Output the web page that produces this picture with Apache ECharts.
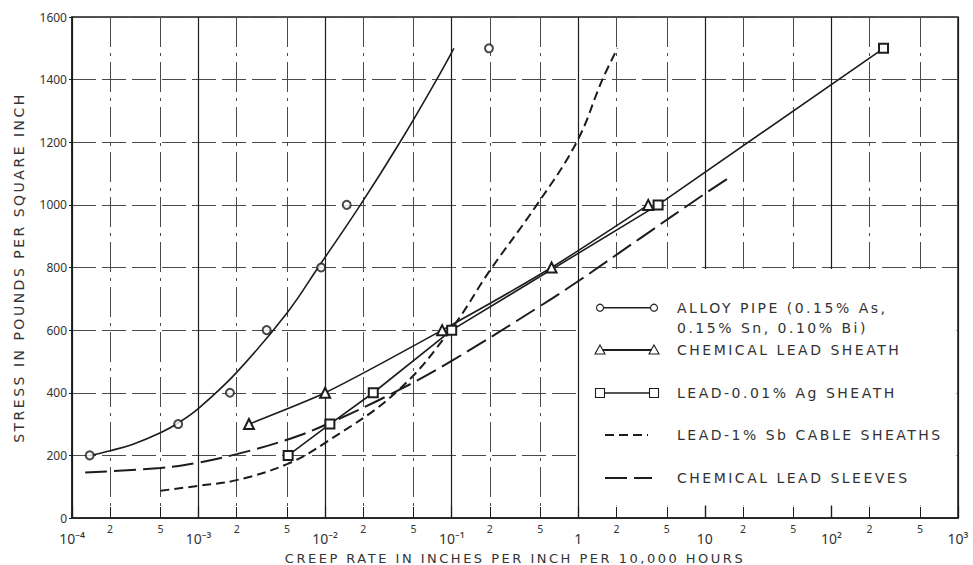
<!DOCTYPE html>
<html><head><meta charset="utf-8">
<script src="https://cdn.jsdelivr.net/npm/echarts@6/dist/echarts.min.js"></script>
<style>
html,body{margin:0;padding:0;background:#fff}
#chart{width:973px;height:565px}
#chart text[style*="DejaVu"]{letter-spacing:2.5px}
</style></head><body><div id="chart"></div>
<script>
// ---------- data ----------
const decadeTicks = [1e-4, 1e-3, 1e-2, 1e-1, 1, 10, 100, 1000];
const minorTicks = [2e-4, 5e-4, 2e-3, 5e-3, 2e-2, 5e-2, 2e-1, 5e-1, 2, 5, 20, 50, 200, 500];

const alloyPointsX = [1.38e-4, 6.9e-4, 1.77e-3, 3.45e-3, 9.3e-3, 1.48e-2, 1.97e-1];
const alloyPointsY = [200, 300, 400, 600, 800, 1000, 1500];
const alloyCurveX = [1.4e-4, 2e-4, 3e-4, 5e-4, 7e-4, 1e-3, 2e-3, 5e-3, 8.8e-3, 1.9e-2, 3.9e-2, 7.6e-2, 1.04e-1];
const alloyCurveY = [200, 215, 235, 272, 305, 350, 465, 655, 800, 1000, 1200, 1400, 1500];

const sheathX = [2.5e-3, 1e-2, 8.4e-2, 6.15e-1, 3.57];
const sheathY = [300, 400, 600, 800, 1000];

const silverX = [5.1e-3, 1.09e-2, 2.4e-2, 1.0e-1, 4.27, 2.58e2];
const silverY = [200, 300, 400, 600, 1000, 1500];

const antimonyX = [5e-4, 1e-3, 2e-3, 5e-3, 1e-2, 3.67e-2, 1e-1, 2e-1, 4.7e-1, 9.7e-1, 1.55, 2.04];
const antimonyY = [87, 103, 121, 172, 240, 403, 606, 790, 1000, 1200, 1400, 1500];

const sleevesX = [1.27e-4, 5e-4, 1e-3, 2e-3, 5e-3, 1e-2, 3.67e-2, 1.03e-1, 4.7e-1, 1.03, 3.1, 9.7, 16];
const sleevesY = [145, 160, 177, 204, 250, 297, 405, 505, 670, 760, 894, 1032, 1090];

const seriesNames = [
  'ALLOY PIPE (0.15% As,\n0.15% Sn, 0.10% Bi)',
  'CHEMICAL LEAD SHEATH',
  'LEAD-0.01% Ag SHEATH',
  'LEAD-1% Sb CABLE SHEATHS',
  'CHEMICAL LEAD SLEEVES'
];
const xTitle = 'CREEP RATE IN INCHES PER INCH PER 10,000 HOURS';
const yTitle = 'STRESS IN POUNDS PER SQUARE INCH';

// ---------- chart ----------
const pair = (xs, ys) => xs.map((x, i) => [x, ys[i]]);
const INK = '#1c1c1c';
const TEXT = '#333';
const GRIDC = '#4a4a4a';
const SUP = {'-': '\u207B', '0': '\u2070', '1': '\u00B9', '2': '\u00B2', '3': '\u00B3', '4': '\u2074',
  '5': '\u2075', '6': '\u2076', '7': '\u2077', '8': '\u2078', '9': '\u2079'};

function decadeLabel(v) {
  const e = Math.round(Math.log10(v));
  if (e === 0) return '1';
  if (e === 1) return '10';
  return '10' + String(e).split('').map(c => SUP[c]).join('');
}
function minorLabel(v) {
  const e = Math.floor(Math.log10(v) + 1e-9);
  return String(Math.round(v / Math.pow(10, e)));
}

const chart = echarts.init(document.getElementById('chart'), null, {renderer: 'svg'});
const lineBase = {type: 'line', xAxisIndex: 0, yAxisIndex: 0, silent: true};
const option = {
  animation: false,
  backgroundColor: '#fff',
  grid: {left: 72, right: 15, top: 17, bottom: 47, containLabel: false, outerBoundsMode: 'none',
    show: true, borderColor: INK, borderWidth: 1.5, backgroundColor: 'transparent'},
  xAxis: [
    {
      type: 'log', logBase: 10, min: 1e-4, max: 1e3, position: 'bottom',
      name: xTitle, nameLocation: 'middle', nameGap: 34,
      nameTextStyle: {fontFamily: 'DejaVu Sans', fontSize: 13, color: TEXT},
      axisLine: {show: true, lineStyle: {color: INK, width: 1.5}},
      axisTick: {show: true, inside: true, length: 12, customValues: decadeTicks, lineStyle: {color: INK, width: 1.2}},
      axisLabel: {customValues: decadeTicks, formatter: decadeLabel, margin: 13, color: TEXT, fontSize: 14, fontFamily: 'Noto Sans'},
      splitLine: {show: true, lineStyle: {color: INK, width: 1.2, type: 'solid'}},
      minorTick: {show: false}, minorSplitLine: {show: false}
    },
    {
      type: 'log', logBase: 10, min: 1e-4, max: 1e3, position: 'bottom',
      axisLine: {show: false},
      axisTick: {show: true, inside: true, length: 11, customValues: minorTicks, lineStyle: {color: INK, width: 1}},
      axisLabel: {customValues: minorTicks, formatter: minorLabel, margin: 5, fontSize: 10.5, fontFamily: 'Noto Sans', color: TEXT},
      splitLine: {show: true, lineStyle: {color: GRIDC, width: 1, type: [30, 6, 3, 6]}},
      minorTick: {show: false}, minorSplitLine: {show: false}
    }
  ],
  yAxis: {
    type: 'value', min: 0, max: 1600, interval: 200,
    name: yTitle, nameLocation: 'middle', nameGap: 46, nameRotate: 90,
    nameTextStyle: {fontFamily: 'DejaVu Sans', fontSize: 14, color: TEXT},
    axisLine: {show: true, lineStyle: {color: INK, width: 1.5}},
    axisTick: {show: true, length: 3, lineStyle: {color: INK}},
    axisLabel: {fontSize: 12, fontFamily: 'Noto Sans', margin: 5, color: TEXT, formatter: v => String(v)},
    splitLine: {show: true, lineStyle: {color: GRIDC, width: 1, type: [24, 6]}}
  },
  series: [
    Object.assign({}, lineBase, {name: seriesNames[0], data: pair(alloyCurveX, alloyCurveY), smooth: 0.4, showSymbol: false, symbol: 'none',
      lineStyle: {color: INK, width: 1.6}}),
    {type: 'scatter', name: seriesNames[0] + ' pts', data: pair(alloyPointsX, alloyPointsY), symbol: 'emptyCircle', symbolSize: 8,
      itemStyle: {color: INK, borderWidth: 1.1}, silent: true, z: 3},
    Object.assign({}, lineBase, {name: seriesNames[1], data: pair(sheathX, sheathY), smooth: 0.2, symbol: 'emptyTriangle', symbolSize: 10,
      lineStyle: {color: INK, width: 1.6}, itemStyle: {color: INK, borderWidth: 1.1}}),
    Object.assign({}, lineBase, {name: seriesNames[2], data: pair(silverX, silverY), symbol: 'emptyRect', symbolSize: 9,
      lineStyle: {color: INK, width: 1.6}, itemStyle: {color: INK, borderWidth: 1.1}}),
    Object.assign({}, lineBase, {name: seriesNames[3], data: pair(antimonyX, antimonyY), smooth: 0.4, showSymbol: false, symbol: 'none',
      lineStyle: {color: INK, width: 2, type: [9, 5]}}),
    Object.assign({}, lineBase, {name: seriesNames[4], data: pair(sleevesX, sleevesY), smooth: 0.4, showSymbol: false, symbol: 'none',
      lineStyle: {color: INK, width: 2, type: [22, 7]}})
  ]
};
chart.setOption(option);

// ---------- legend box (blanked grid region) + hand-drawn legend ----------
const tl = chart.convertToPixel({xAxisIndex: 0, yAxisIndex: 0}, [1, 800]);
const br = chart.convertToPixel({xAxisIndex: 0, yAxisIndex: 0}, [1000, 0]);
const LX0 = 600, LX1 = 654, TX = 677;
const rows = [307.7, 350, 393, 435, 478];
const txt = (t, x, y) => ({type: 'text', x: x, y: y, z: 10, silent: true,
  style: {text: t, fontFamily: 'DejaVu Sans', fontSize: 14, fill: TEXT, align: 'left', verticalAlign: 'middle'}});
const seg = (x1, x2, y, dash, w) => ({type: 'line', z: 10, silent: true, shape: {x1: x1, y1: y, x2: x2, y2: y},
  style: {stroke: INK, lineWidth: w || 1.6, lineDash: dash || null}});
const circ = (x, y) => ({type: 'circle', z: 11, silent: true, shape: {cx: x, cy: y, r: 3.5}, style: {fill: '#fff', stroke: INK, lineWidth: 1.1}});
const tri = (x, y) => ({type: 'polygon', z: 11, silent: true, shape: {points: [[x, y - 5], [x + 5, y + 4], [x - 5, y + 4]]}, style: {fill: '#fff', stroke: INK, lineWidth: 1.1}});
const sq = (x, y) => ({type: 'rect', z: 11, silent: true, shape: {x: x - 4.5, y: y - 4.5, width: 9, height: 9}, style: {fill: '#fff', stroke: INK, lineWidth: 1.1}});
const lines = seriesNames[0].split('\n');
chart.setOption({
  graphic: [
    {type: 'rect', z: 1, silent: true,
      shape: {x: tl[0] + 1.5, y: tl[1] + 1.5, width: br[0] - tl[0] - 3, height: br[1] - tl[1] - 14},
      style: {fill: '#fff'}},
    seg(LX0, LX1, rows[0]), circ(LX0, rows[0]), circ(LX1, rows[0]),
    txt(lines[0], TX, rows[0]), txt(lines[1], TX, rows[0] + 20.5),
    seg(LX0, LX1, rows[1], null, 2), tri(LX0, rows[1]), tri(LX1, rows[1]), txt(seriesNames[1], TX, rows[1]),
    seg(LX0, LX1, rows[2]), sq(LX0, rows[2]), sq(LX1, rows[2]), txt(seriesNames[2], TX, rows[2]),
    seg(605, 648, rows[3], [9, 5], 2), txt(seriesNames[3], TX, rows[3]),
    seg(605, 652, rows[4], [22, 7], 2), txt(seriesNames[4], TX, rows[4])
  ]
});
</script></body></html>
